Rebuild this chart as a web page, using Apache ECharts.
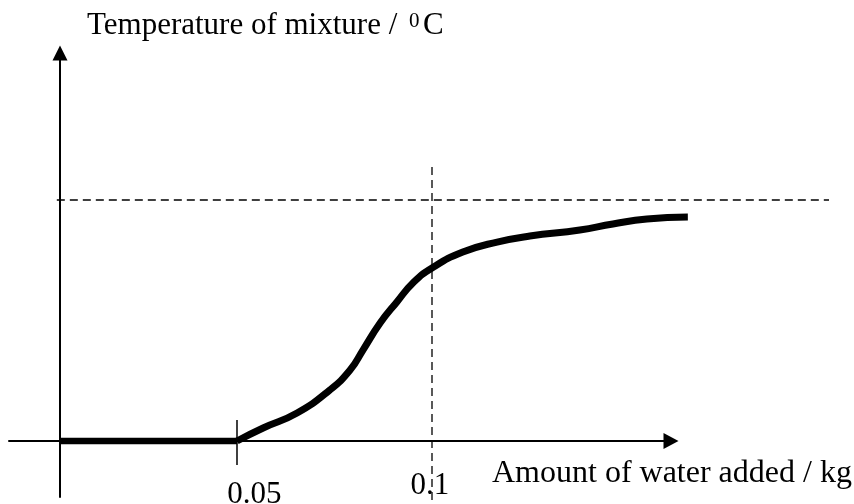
<!DOCTYPE html>
<html>
<head>
<meta charset="utf-8">
<script src="https://cdn.jsdelivr.net/npm/echarts@6/dist/echarts.min.js"></script>
<style>
  html, body { margin: 0; padding: 0; background: #fff; }
  #main { width: 854px; height: 504px; }
</style>
</head>
<body>
<div id="main"></div>
<script>
// sketch data: amount of water added (kg) vs temperature (final level = 20)
var flatKg   = [0.0046, 0.05];
var flatTemp = [0, 0];
var riseKg   = [0.05, 0.0567, 0.0654, 0.0738, 0.0790, 0.0823, 0.0867, 0.0910,
                0.0951, 0.1, 0.1079, 0.1167, 0.1251, 0.1379, 0.1464, 0.1551, 0.1656];
var riseTemp = [0, 1.08, 2.32, 4.23, 5.89, 7.55, 9.79, 11.54,
                13.11, 14.36, 15.68, 16.51, 17.01, 17.51, 18.01, 18.42, 18.59];

// dashed guide lines
var levelX = [0.0038, 0.2018];
var levelY = [20, 20];
var guideX = [0.1, 0.1];
var guideY = [22.74, -5.2];

// tick mark at 0.05 and the tick labels
var tickMarkX = [0.05, 0.05];
var tickMarkY = [1.74, -1.99];
var tickValues = [0.05, 0.1];
var tickLabels = ['0.05', '0.1'];

var xName = 'Amount of water added / kg';
var yName = 'Temperature of mixture /';
var ySup = '0';
var yUnit = 'C';

function pairs(xs, ys) {
  return xs.map(function (x, i) { return [x, ys[i]]; });
}

var FONT = '"Liberation Serif", "Times New Roman", serif';
var chart = echarts.init(document.getElementById('main'));

var hidden = {
  axisLine: { show: false }, axisTick: { show: false },
  axisLabel: { show: false }, splitLine: { show: false }
};

function lineSeries(xs, ys, style, extra) {
  return Object.assign({
    type: 'line',
    xAxisIndex: 1,
    yAxisIndex: 1,
    data: pairs(xs, ys),
    symbol: 'none',
    clip: false,
    silent: true,
    lineStyle: style
  }, extra || {});
}

var dashed = { color: '#000', width: 1.3, type: [8, 5] };

chart.setOption({
  animation: false,
  // grid 0 shows the arrowed axes, grid 1 (same scale, wider) carries the marks
  grid: [
    { left: 9, right: 183, top: 53, bottom: 7 },
    { left: 9, right: 24, top: 53, bottom: 0 }
  ],
  xAxis: [
    {
      gridIndex: 0, type: 'value', min: -0.00846, max: 0.16128,
      axisLine: {
        onZero: true, symbol: ['none', 'triangle'], symbolSize: [16, 15],
        lineStyle: { color: '#000', width: 2 }
      },
      axisTick: { show: false }, axisLabel: { show: false }, splitLine: { show: false }
    },
    Object.assign({ gridIndex: 1, type: 'value', min: -0.00846, max: 0.20205 }, hidden)
  ],
  yAxis: [
    {
      gridIndex: 0, type: 'value', min: -4.65, max: 32.2, offset: -51,
      axisLine: {
        onZero: false, symbol: ['none', 'triangle'], symbolSize: [15, 15],
        lineStyle: { color: '#000', width: 2 }
      },
      axisTick: { show: false }, axisLabel: { show: false }, splitLine: { show: false }
    },
    Object.assign({ gridIndex: 1, type: 'value', min: -5.228, max: 32.2 }, hidden)
  ],
  series: [
    lineSeries(levelX, levelY, dashed),
    lineSeries(guideX, guideY, dashed),
    lineSeries(tickMarkX, tickMarkY, { color: '#000', width: 1.5 }),
    lineSeries(flatKg, flatTemp, { color: '#000', width: 6.5, cap: 'butt' }),
    lineSeries(riseKg, riseTemp, { color: '#000', width: 7, cap: 'butt', join: 'round' }, { smooth: 0.5 })
  ]
});

// texts placed from the axis scale
var labelShift = [[17.5, 54], [-2, 45]];
var graphics = tickValues.map(function (v, i) {
  var p = chart.convertToPixel({ xAxisIndex: 1, yAxisIndex: 1 }, [v, 0]);
  return {
    type: 'text',
    x: p[0] + labelShift[i][0],
    y: p[1] + labelShift[i][1],
    style: { text: tickLabels[i], font: '31px ' + FONT, fill: '#000', align: 'center', verticalAlign: 'middle' }
  };
});
graphics.push(
  { type: 'text', x: 492, y: 474, style: { text: xName, font: '32px ' + FONT, fill: '#000', align: 'left', verticalAlign: 'middle' } },
  { type: 'text', x: 87, y: 26, style: { text: yName, font: '31px ' + FONT, fill: '#000', align: 'left', verticalAlign: 'middle' } },
  { type: 'text', x: 409, y: 21, style: { text: ySup, font: '21px ' + FONT, fill: '#000', align: 'left', verticalAlign: 'middle' } },
  { type: 'text', x: 423, y: 26, style: { text: yUnit, font: '31px ' + FONT, fill: '#000', align: 'left', verticalAlign: 'middle' } }
);
chart.setOption({ graphic: graphics });
</script>
</body>
</html>
